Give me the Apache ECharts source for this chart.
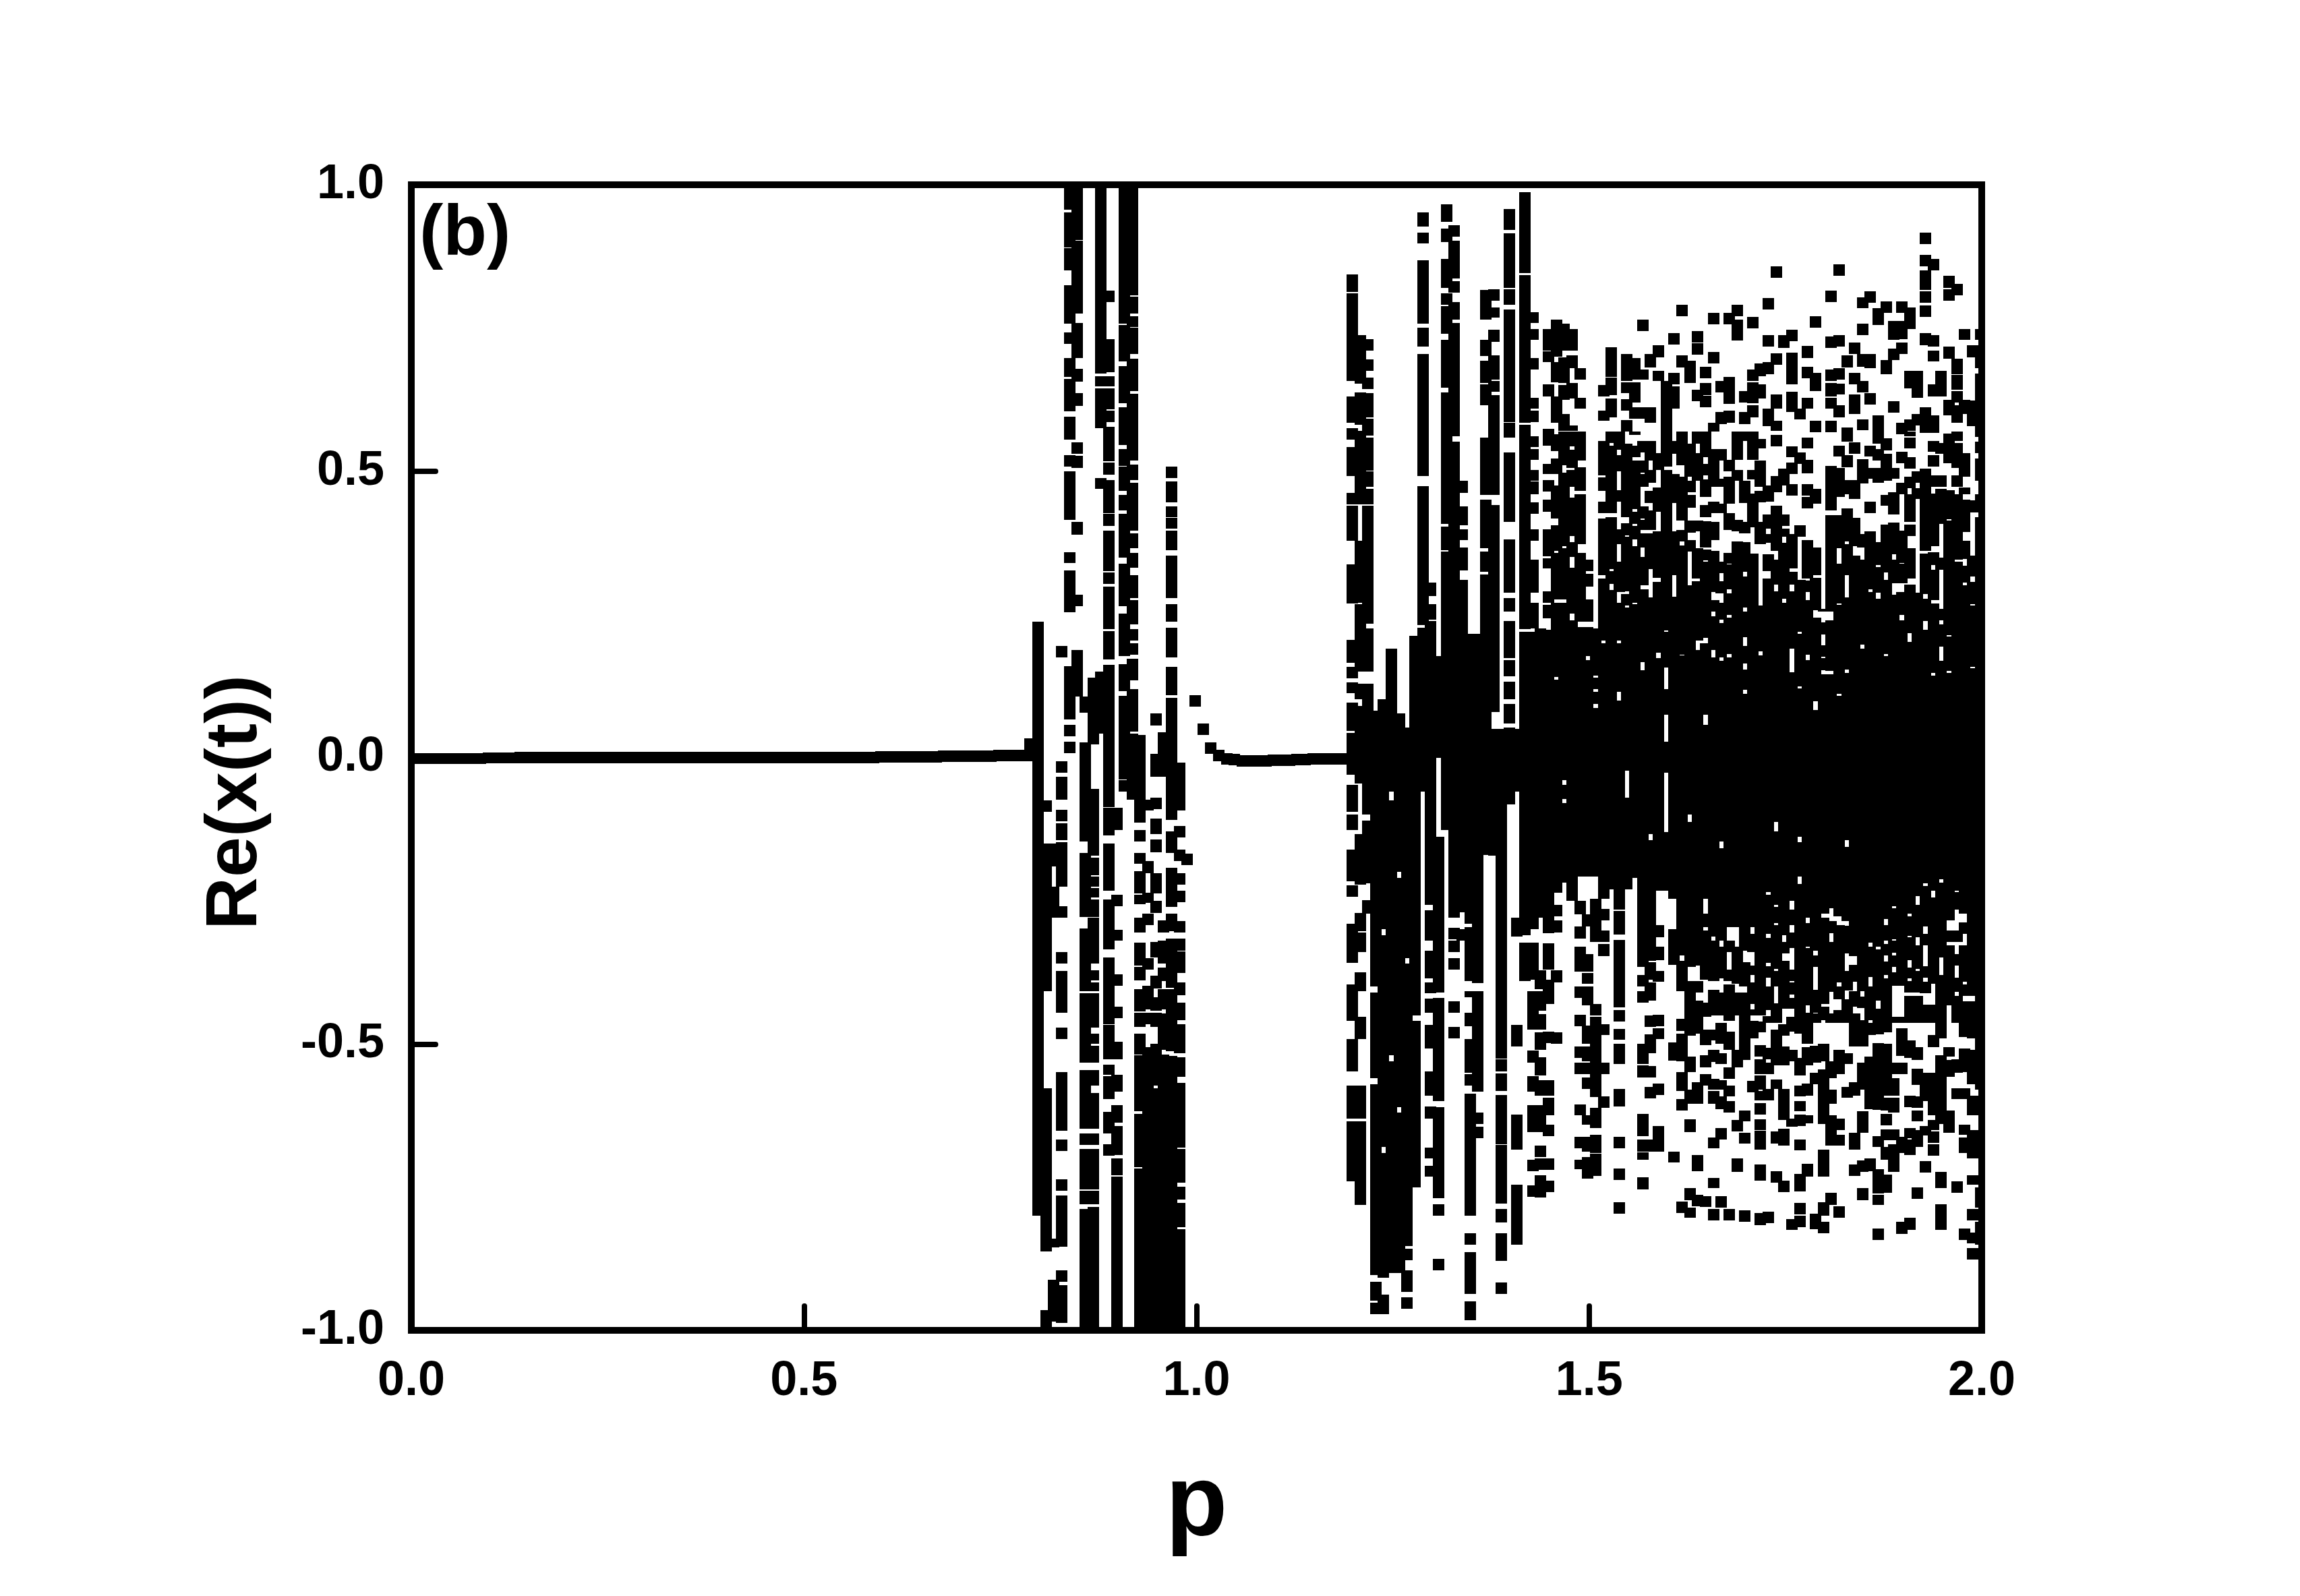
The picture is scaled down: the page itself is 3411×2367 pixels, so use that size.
<!DOCTYPE html>
<html><head><meta charset="utf-8">
<style>html,body{margin:0;padding:0;background:#fff}#c{width:3411px;height:2367px}</style>
<script src="https://cdn.jsdelivr.net/npm/echarts@6/dist/echarts.min.js"></script>
</head><body><div id="c"></div>
<script>
// each row: p, then pairs (upper edge, lower edge) of a stack of markers in Re(x(t))
const stable=[
[0,.008,-.011],[.01,.008,-.011],[.02,.008,-.011],[.03,.008,-.011],[.04,.008,-.011],[.05,.008,-.011],[.06,.008,-.011],[.07,.008,-.011],[.08,.008,-.011],[.09,.008,-.011],
[.1,.009,-.01],[.11,.009,-.01],[.12,.009,-.01],[.13,.009,-.01],[.14,.01,-.01],[.15,.01,-.01],[.16,.01,-.01],[.17,.01,-.01],[.18,.01,-.01],[.19,.01,-.01],
[.2,.01,-.01],[.21,.01,-.01],[.22,.01,-.01],[.23,.01,-.01],[.24,.01,-.01],[.25,.01,-.01],[.26,.01,-.01],[.27,.01,-.01],[.28,.01,-.01],[.29,.01,-.01],
[.3,.01,-.01],[.31,.01,-.01],[.32,.01,-.01],[.33,.01,-.01],[.34,.01,-.01],[.35,.01,-.01],[.36,.01,-.01],[.37,.01,-.01],[.38,.01,-.01],[.39,.01,-.01],
[.4,.01,-.01],[.41,.01,-.01],[.42,.01,-.01],[.43,.01,-.01],[.44,.01,-.01],[.45,.01,-.01],[.46,.01,-.01],[.47,.01,-.01],[.48,.01,-.01],[.49,.01,-.01],
[.5,.01,-.01],[.51,.01,-.01],[.52,.01,-.01],[.53,.01,-.01],[.54,.01,-.01],[.55,.01,-.01],[.56,.01,-.01],[.57,.01,-.01],[.58,.01,-.01],[.59,.01,-.01],
[.6,.011,-.009],[.61,.011,-.009],[.62,.011,-.009],[.63,.011,-.009],[.64,.011,-.009],[.65,.011,-.009],[.66,.011,-.009],[.67,.011,-.009],[.68,.012,-.008],[.69,.012,-.008],
[.7,.012,-.008],[.71,.012,-.008],[.72,.012,-.008],[.73,.012,-.008],[.74,.012,-.008],[.75,.013,-.007],[.76,.013,-.007],[.77,.013,-.007],[.78,.013,-.007]];
const windowA=[
[.79,.033,-.007],
[.80,.237,-.80],
[.81,-.075,-.095,-.15,-.408,-.577,-.862,-.965,-1],
[.82,-.15,-.19,-.225,-.28,-.84,-.855,-.912,-.965,-.965,-.985],
[.83,.195,.175,-.007,-.027,-.034,-.073,-.091,-.111,-.115,-.144,-.148,-.225,-.26,-.28,-.34,-.36,-.373,-.445,-.472,-.492,-.549,-.652,-.667,-.687,-.736,-.756,-.765,-.854,-.895,-.915,-.921,-.987],
[.84,1,.957,.952,.89,.889,.851,.825,.758,.742,.722,.697,.665,.661,.604,.595,.555,.528,.508,.5,.415,.359,.34,.327,.254,.16,.067,.057,.037,.028,.008],
[.85,1,.903,.902,.775,.759,.697,.679,.656,.636,.614,.55,.53,.527,.506,.412,.389,.284,.264,.188,.106],
[.86,.106,.078,.026,-.146,-.166,-.278,-.298,-.408,-.411,-.533,-.546,-.648,-.656,-.676,-.683,-.754,-.756,-.78,-.788,-1],
[.87,.139,.117,.117,.043,.043,.023,-.055,-.146,-.146,-.171,-.175,-.205,-.208,-.225,-.228,-.244,-.248,-.278,-.28,-.36,-.371,-.389,-.392,-.408,-.411,-.472,-.482,-.5,-.503,-.533,-.546,-.573,-.586,-.648,-.656,-.676,-.683,-.754,-.756,-.78,-.785,-1],
[.88,1,.67,.666,.648,.644,.575,.488,.469,.15,.042],
[.89,.815,.795,.731,.673,.666,.648,.644,.608,.606,.586,.577,.517,.515,.494,.484,.427,.425,.404,.396,.325,.323,.303,.298,.224,.221,.171,.162,-.087,-.088,-.136,-.15,-.232,-.248,-.335,-.349,-.465,-.467,-.527,-.536,-.554,-.556,-.596,-.619,-.656,-.675,-.695],
[.90,-.088,-.127,-.239,-.259,-.301,-.32,-.379,-.399,-.435,-.455,-.496,-.527,-.554,-.583,-.607,-.638,-.643,-.694,-.7,-.729,-.732,-1],
[.91,1,.758,.755,.692,.683,.619,.611,.546,.538,.509,.508,.465,.458,.431,.426,.349,.338,.264,.251,.177,.163,.116,.108,-.038,-.04,-.06],
[.92,1,.807,.805,.775,.771,.752,.75,.705,.696,.64,.635,.546,.546,.518,.511,.484,.48,.396,.391,.366,.357,.331,.319,.278,.275,.232,.224,.204,.2,.179,.173,.135,.12,.045,.042,-.073],
[.93,.04,-.034,-.034,-.082,-.082,-.114,-.127,-.146,-.166,-.185,-.198,-.237,-.239,-.256,-.28,-.306,-.323,-.363,-.366,-.389,-.404,-.443,-.446,-.47,-.482,-.518,-.52,-.617,-.622,-.715,-.718,-1],
[.94,-.073,-.092,-.181,-.202,-.236,-.254,-.272,-.293,-.35,-.37,-.399,-.44,-.446,-.466,-.506,-1],
[.95,.077,.056,.006,-.034,-.07,-.09,-.107,-.134,-.143,-.165,-.202,-.237,-.25,-.271,-.322,-.349,-.381,-.403,-.418,-.442,-.445,-.47,-.5,-.573,-.577,-1],
[.96,.044,-.034,-.284,-.306,-.32,-.36,-.367,-.39,-.404,-.44,-.447,-.51,-.518,-.6,-.6,-1],
[.97,.508,.488,.482,.446,.439,.42,.418,.4,.396,.362,.352,.278,.268,.237,.227,.175,.158,.109,.104,-.109,-.129,-.167,-.193,-.261,-.272,-.303,-.316,-.37,-.37,-.402,-.404,-.469,-.469,-.513,-.521,-.567,-.567,-1],
[.98,-.009,-.092,-.119,-.14,-.161,-.181,-.202,-.222,-.232,-.252,-.285,-.306,-.316,-.337,-.338,-.376,-.392,-.415,-.428,-.459,-.465,-.516,-.523,-.557,-.568,-.681,-.683,-.742,-.749,-.772,-.777,-.82,-.823,-1],
[.99,-.168,-.188],
[1.00,.109,.089],[1.01,.06,.04],[1.02,.027,.007],[1.03,.014,-.006],[1.04,.008,-.012],[1.05,.006,-.014]];
const recovered=[
[1.06,.004,-.016],[1.07,.004,-.016],[1.08,.004,-.016],[1.09,.004,-.016],[1.10,.005,-.015],[1.11,.005,-.015],[1.12,.005,-.015],[1.13,.006,-.014],[1.14,.006,-.014],[1.15,.008,-.012],[1.16,.008,-.012],[1.17,.008,-.012],[1.18,.008,-.012],[1.19,.008,-.012]];
const windowB=[
[1.20,.844,.813,.811,.658,.63,.585,.575,.555,.542,.492,.462,.442,.44,.379,.337,.269,.206,.165,.158,.138,.131,.112,.096,.046,.043,-.03,-.048,-.095,-.1,-.127,-.161,-.216,-.223,-.243,-.29,-.358,-.396,-.46,-.491,-.548,-.573,-.63,-.635,-.74],
[1.21,.737,.653,.638,.581,.57,.48,.491,.442,.379,.27,.268,.206,.206,.15,.129,.102,.09,-.045,-.134,-.222,-.271,-.303,-.306,-.34,-.375,-.408,-.453,-.492,-.573,-.63,-.635,-.73,-.722,-.781],
[1.22,.73,.71,.695,.675,.663,.643,.636,.594,.592,.562,.558,.501,.5,.473,.469,.442,.44,.234,.226,.15,.129,.082,.082,-.1,-.11,-.22,-.249,-.273],
[1.23,.082,-.40,-.41,-.56,-.57,-.903,-.915,-.948,-.952,-.972],
[1.24,.102,-.30,-.31,-.68,-.69,-.908,-.938,-.972],
[1.25,.19,-.06,-.075,-.52,-.53,-.9],
[1.26,.077,-.2,-.21,-.61,-.62,-.9],
[1.27,.052,-.35,-.36,-.853,-.858,-.878,-.895,-.933,-.942,-.962],
[1.28,.213,-.45,-.46,-.75],
[1.29,.952,.927,.917,.898,.868,.758,.75,.717,.704,.492,.474,.231,.227,-.06],
[1.30,.305,.282,.268,.241,.238,-.257,-.267,-.32,-.337,-.385,-.392,-.411,-.421,-.446,-.467,-.508,-.548,-.59,-.609,-.63,-.681,-.7,-.713,-.732],
[1.31,.177,.0,-.138,-.41,-.42,-.6,-.61,-.75,-.751,-.769,-.78,-.8,-.875,-.895],
[1.32,.966,.935,.923,.9,.87,.82,.81,.79,.788,.74,.729,.646,.638,.525,.524,.408,.403,.362,.36,-.126],
[1.33,.929,.909,.902,.836,.832,.812,.795,.764,.759,.561,.551,-.28,-.297,-.317,-.32,-.34,-.35,-.37,-.425,-.445,-.47,-.49],
[1.34,.483,.462,.438,.405,.399,.38,.367,.327,.31,-.27,-.3,-.32],
[1.35,.216,-.272,-.27,-.29,-.296,-.39,-.408,-.418,-.445,-.469,-.492,-.55,-.553,-.573,-.587,-.8,-.831,-.85,-.864,-.937,-.949,-.982],
[1.36,.216,-.394,-.408,-.583,-.62,-.64,-.644,-.665],
[1.37,.816,.765,.729,.701,.693,.654,.651,.615,.558,.459,.45,.366,.36,.324,.32,-.17],
[1.38,.817,.798,.786,.768,.747,.726,.702,.66,.657,.639,.633,.459,.441,.08,.05,-.171],
[1.39,.05,-.526,-.527,-.548,-.551,-.582,-.589,-.675,-.676,-.779,-.788,-.812,-.83,-.879,-.916,-.936],
[1.40,.958,.921,.915,.82,.818,.79,.782,.586,.585,.558,.533,.411,.381,.288,.278,.255,.238,.174,.17,.142,.132,.102,.094,.06,.052,-.082],
[1.41,.05,-.06,-.279,-.313,-.467,-.504,-.623,-.684,-.746,-.85],
[1.42,.987,.846,.842,.585,.581,.224,.219,-.31,-.323,-.39],
[1.43,.778,.759,.748,.729,.698,.678,.628,.609,.606,.586,.561,.542,.539,.52,.502,.483,.482,.46,.445,.426,.399,.378,.346,.288,.27,.225,.219,-.3,-.323,-.388,-.408,-.442,-.442,-.475,-.512,-.533,-.556,-.583,-.607,-.654,-.702,-.722,-.747,-.767],
[1.44,.225,-.28,-.371,-.404,-.408,-.442,-.448,-.475,-.48,-.51,-.523,-.555,-.563,-.59,-.607,-.654,-.677,-.697,-.7,-.72,-.729,-.748,-.748,-.768],
[1.45,.748,.711,.709,.69,.651,.63,.574,.544,.513,.495,.484,.464,.45,.429,.399,.351,.348,.33,.29,.27,.267,.243,.223,-.307,-.324,-.37,-.388,-.43,-.479,-.499,-.563,-.59,-.594,-.624,-.641,-.661,-.7,-.72,-.739,-.759]];
// stacks above the dense band, 1.46 to 2.00
const upperOuter=[
[1.46,.765,.7,.69,.655,.63,.585],[1.47,.758,.71,.699,.654,.65,.625,.6,.57],[1.48,.748,.71,.702,.68,.654,.627,.58,.57],[1.49,.68,.66,.628,.609],
[1.52,.65,.63,.606,.588],[1.53,.716,.665,.663,.633,.627,.594],[1.55,.705,.657,.655,.636,.626,.606,.589,.569],[1.56,.698,.66,.655,.62,.612,.591],
[1.57,.765,.745,.678,.66,.612,.591],[1.58,.705,.681,.612,.585],[1.59,.72,.699,.675,.657],[1.60,.657,.569],[1.61,.741,.721,.671,.651,.648,.609],
[1.62,.79,.771,.702,.681],[1.63,.693,.654],[1.64,.745,.724,.723,.703,.642,.622],[1.65,.682,.662,.654,.633,.632,.611],[1.66,.776,.756,.708,.688,.585,.569],
[1.67,.657,.637,.603,.582],[1.68,.776,.756,.665,.618,.606,.585],[1.69,.79,.771,.765,.728],[1.70,.64,.62,.603,.582],[1.71,.769,.749,.678,.657,.655,.619,.615,.594],
[1.72,.688,.666,.651,.627],[1.73,.802,.782,.738,.718,.69,.669,.609,.579],[1.74,.858,.837,.706,.686,.634,.609,.588,.57],[1.75,.738,.715],[1.76,.747,.727,.707,.651,.639,.603],
[1.77,.609,.59],[1.78,.719,.698,.682,.662,.628,.609],[1.79,.77,.75,.671,.64,.588,.568],[1.81,.815,.795,.735,.715,.678,.657,.654,.63,.628,.609,.588,.568],
[1.82,.861,.841,.738,.718,.68,.66,.653,.634,.615,.594],[1.83,.702,.681,.576,.552],[1.84,.724,.704,.671,.651,.634,.6],[1.85,.804,.784,.758,.738,.704,.682,.657,.637,.59,.571],
[1.86,.814,.794,.704,.68,.636,.616],[1.87,.784,.755,.597,.569],[1.88,.796,.776,.694,.669],[1.89,.762,.729,.714,.694,.622,.602],[1.90,.796,.776,.762,.73,.724,.704,.585,.564],
[1.91,.786,.748,.675,.645,.59,.57],[1.92,.675,.65,.651,.628,.60,.58],[1.93,.917,.896,.878,.858,.85,.816,.814,.794,.789,.769,.741,.72,.612,.567],
[1.94,.871,.851,.737,.718,.71,.692,.651,.63,.597,.567],[1.95,.675,.63],[1.96,.841,.82,.817,.798,.717,.696,.624,.597],[1.97,.827,.807,.696,.669,.668,.642,.64,.62,.615,.585],
[1.98,.748,.729,.624,.6],[1.99,.72,.699,.623,.579],[2.00,.748,.729,.7,.68,.67,.62,.6,.56]];
// stacks in the sparse part of the upper band, 1.73 to 2.00
const upperSparse=[
[1.73,.475,.447,.424,.40],[1.74,.563,.543,.491,.463,.44,.42],[1.75,.504,.475,.424,.404],[1.76,.543,.524,.515,.495,.477,.457],[1.77,.533,.513,.405,.385],
[1.78,.559,.54,.52,.496,.477,.457,.455,.435],[1.79,.469,.443],[1.81,.509,.432],[1.82,.545,.526,.506,.455],[1.83,.569,.551,.528,.507,.484,.46],[1.84,.55,.53,.484,.451],
[1.85,.521,.479],[1.86,.545,.526,.506,.487,.447,.427],[1.87,.569,.548,.538,.518,.506,.48],[1.88,.557,.536,.53,.483,.459,.44],[1.89,.506,.487,.463,.424],[1.90,.534,.514,.48,.46],
[1.91,.569,.561,.559,.54,.524,.504,.49,.47],[1.92,.50,.48],[1.94,.553,.534,.528,.508],[1.95,.549,.53,.493,.473],[1.96,.566,.545,.545,.514],[1.97,.569,.553,.549,.506,.493,.473],
[1.98,.532,.49,.471,.46],[1.99,.449,.43],[2.00,.551,.532,.522,.483,.46,.44]];
// dense band: p, upper edge, lower edge of the solid part
const bandEdges=[
[1.46,.569,-.208],[1.47,.569,-.208],[1.48,.569,-.208],[1.49,.569,-.208],[1.50,.569,-.208],[1.51,.569,-.208],[1.52,.569,-.208],[1.53,.569,-.208],[1.54,.569,-.208],[1.55,.569,-.208],[1.56,.569,-.208],[1.57,.569,-.208],[1.58,.569,-.208],[1.59,.569,-.208],[1.60,.569,-.208],
[1.61,.569,-.208],[1.62,.569,-.208],[1.63,.569,-.208],[1.64,.569,-.208],[1.65,.569,-.208],[1.66,.569,-.208],[1.67,.569,-.208],[1.68,.569,-.208],[1.69,.569,-.208],[1.70,.569,-.208],[1.71,.569,-.208],[1.72,.569,-.208],
[1.73,.39,-.463],[1.74,.42,-.463],[1.75,.40,-.463],[1.76,.39,-.463],[1.77,.385,-.463],[1.78,.38,-.463],[1.79,.367,-.463],[1.80,.26,-.463],[1.81,.423,-.463],[1.82,.423,-.463],[1.83,.435,-.463],[1.84,.418,-.463],[1.85,.39,-.463],[1.86,.395,-.463],[1.87,.376,-.463],[1.88,.407,-.463],[1.89,.41,-.463],
[1.90,.40,-.463],[1.91,.46,-.463],[1.92,.47,-.463],[1.93,.505,-.463],[1.94,.493,-.463],[1.95,.469,-.463],[1.96,.467,-.463],[1.97,.46,-.463],[1.98,.45,-.463],[1.99,.43,-.463],[2.00,.42,-.463]];
// white holes read inside the dense band
const bandGaps=[
[1.46,.569,.565,.535,.522,.495,.475,.417,.406,.361,.357,.276,.27,.141,.136],
[1.47,.51,.497,.369,.365,.276,.27,-.04,-.048,-.072,-.079],
[1.48,.543,.537,.506,.502,.473,.454,.387,.376,.35,.331,.251,.24],
[1.49,.518,.507,.466,.46,.373,.357,.237,.228],
[1.50,.569,.346,.326,.321,.298,.276,.237,.228,.177,.17],
[1.51,.569,.225,.143,.14,.12,.115,.094,.087],
[1.52,.569,.553,.493,.489,.466,.447,.427,.417,.318,.312,.204,.199],
[1.53,.549,.545,.427,.42,.329,.326,.303,.293],
[1.54,.537,.528,.5,.467,.447,.399,.373,.342,.289,.27,.204,.2,.115,.1],
[1.55,.569,.548,.42,.409,.388,.386,.29,.286,.265,.262,-.023,-.07],
[1.56,.563,.545,.525,.518,.434,.429,.408,.404,.381,.369,.27,.268],
[1.57,.569,.553,.533,.518,.497,.495,.473,.438,.417,.415,.397,.391,.367,.35,.301,.294,.166,.152],
[1.58,.569,.553,.518,.502,.48,.466,.444,.431,.397,.391,.329,.28,-.134,-.144],
[1.59,.569,.531,.502,.471,.429,.395,.314,.307,.183,.174],
[1.60,.508,.502,.222,.22,.157,.119,.075,.028,-.026,-.13],
[1.61,.569,.553,.53,.495,.444,.395,.318,.281],
[1.62,.51,.49,.414,.397,.377,.37,.18,.178],
[1.63,.569,.548,.49,.483,.463,.458,.436,.414,.393,.38,.36,.301,-.1,-.113],
[1.64,.548,.531,.483,.414,.395,.365,.312,.308,.204,.188],
[1.65,.525,.513,.493,.485,.455,.441,.42,.413,.367,.363,.344,.342,.209,.199,.075,.057],
[1.66,.569,.538,.473,.447,.427,.411,.38,.361,.289,.275,.255,.247,.188,.175],
[1.67,.569,.538,.518,.487,.473,.443,.427,.342,.322,.308,.287,.27,.241,.235,.175,.169,-.146,-.158],
[1.68,.569,.52,.5,.49,.443,.427,.397,.357,.338,.337,.294,.287,.249,.244,.181,.175],
[1.69,.52,.502,.483,.415,.395,.377],
[1.70,.553,.483,.444,.412,.391,.376,.324,.316,.262,.255,.21,.195,.164,.154,.118,.111],
[1.71,.52,.502,.485,.461,.402,.356],
[1.72,.569,.556,.54,.518,.473,.466,.445,.412,.373,.265,.185,.178],
[1.73,.375,.355,.326,.312,-.235,-.24,-.308,-.315,-.359,-.364,-.384,-.4,-.441,-.451],
[1.74,.361,.346,.302,.29,-.113,-.129,-.257,-.261,-.289,-.292,-.369,-.373,-.4,-.429],
[1.75,.385,.375,.277,.27,-.31,-.322,-.342,-.355,-.439,-.463],
[1.76,.33,.324,.302,.29,.19,.149,-.25,-.265,-.292,-.306,-.333,-.37,-.39,-.393,-.414,-.42,-.439,-.453],
[1.77,.385,.31,.22,.216,.124,.121,-.138,-.148,-.208,-.221],
[1.78,.312,.309,.289,.275,.18,.17,-.279,-.289,-.33,-.333,-.433,-.445],
[1.79,.318,.314,.257,.244,.098,.083,-.337,-.345,-.366,-.405,-.445,-.447],
[1.80,.255,.236,.215,.196,.176,.174,.153,.145,-.273,-.28,-.43,-.435,-.459,-.463],
[1.81,.255,.24,.151,.145,-.263,-.286,-.307,-.322,-.409,-.447],
[1.82,.365,.339,.269,.267,.111,.108,-.277,-.292,-.393,-.4,-.422,-.441],
[1.83,.377,.373,.318,.279,.154,.148,-.144,-.156,-.286,-.294,-.342,-.373,-.407,-.422],
[1.84,.369,.353,-.347,-.362,-.391,-.408,-.435,-.447],
[1.85,.367,.345,.197,.19,-.408,-.417,-.437,-.459],
[1.86,.294,.289,-.323,-.33,-.383,-.4,-.459,-.463],
[1.87,.396,.378,.336,.332,.288,.277,-.33,-.335,-.424,-.438],
[1.88,.323,.31,.181,.177,-.282,-.292,-.32,-.325,-.345,-.356,-.38,-.386],
[1.89,.355,.345,.304,.284,-.259,-.263,-.317,-.32,-.341,-.345,-.366,-.375,-.399,-.453],
[1.90,.443,.424,.403,.396,.34,.338,.304,.289,.249,.239,-.399,-.453],
[1.91,.412,.407,.387,.365,.313,.302,.217,.202,-.273,-.277,-.311,-.314,-.354,-.367,-.386,-.39,-.41,-.416],
[1.92,.451,.288,-.242,-.257,-.314,-.328,-.369,-.373,-.41,-.416],
[1.93,.361,.356,.285,.277,.238,.223,-.219,-.224,-.295,-.308,-.328,-.364,-.384,-.391,-.411,-.431],
[1.94,.473,.461,.369,.359,.336,.328,.275,.269,.148,.143,-.233,-.244,-.395,-.431],
[1.95,.408,.349,.328,.259,.24,.232,.194,.169,-.212,-.218,-.349,-.38],
[1.96,.416,.414,.214,.211,.151,.148,-.284,-.302,-.322,-.328,-.433,-.463],
[1.97,.345,.342,-.232,-.235,-.265,-.302,-.322,-.343,-.363,-.384,-.409,-.416],
[1.98,.394,.379,.347,.335,.306,.301,-.273,-.288,-.308,-.328,-.391,-.396,-.416,-.426],
[1.99,.428,.353,.316,.307,.268,.266,.158,.156,-.416,-.426]];
// stacks below the dense band, down to -0.702
const lowerBand=[
[1.46,-.208,-.236,-.257,-.277,-.284,-.305,-.371,-.393,-.48,-.5],
[1.47,-.208,-.218],
[1.48,-.208,-.25],
[1.49,-.25,-.274,-.295,-.316,-.33,-.374,-.4,-.42,-.449,-.469,-.504,-.524,-.533,-.553,-.606,-.625,-.662,-.682],
[1.50,-.274,-.295,-.343,-.374,-.376,-.395,-.4,-.433,-.468,-.5,-.504,-.53,-.533,-.553,-.559,-.578,-.625,-.641,-.662,-.688,-.697,-.702],
[1.51,-.247,-.322,-.43,-.45,-.453,-.465,-.465,-.484,-.484,-.553,-.553,-.573,-.573,-.593,-.612,-.633,-.633,-.647,-.659,-.69,-.691,-.702],
[1.52,-.208,-.247,-.264,-.284,-.302,-.322,-.326,-.347,-.465,-.484,-.533,-.553,-.592,-.612],
[1.53,-.208,-.23],
[1.54,-.208,-.265,-.268,-.309,-.319,-.436,-.441,-.461,-.474,-.493,-.5,-.535,-.578,-.609,-.662,-.682],
[1.55,-.208,-.23],
[1.56,-.208,-.21],
[1.57,-.208,-.365,-.38,-.40,-.408,-.428,-.5,-.535,-.537,-.558,-.622,-.661,-.667,-.688,-.689,-.702],
[1.58,-.208,-.355,-.357,-.388,-.392,-.424,-.45,-.47,-.483,-.516,-.538,-.558,-.575,-.595,-.667,-.688],
[1.59,-.208,-.232,-.293,-.314,-.33,-.354,-.372,-.391,-.449,-.469,-.473,-.492,-.569,-.589,-.643,-.688],
[1.60,-.208,-.232],
[1.61,-.208,-.247,-.3,-.342,-.342,-.362,-.497,-.529,-.688,-.702],
[1.62,-.208,-.345,-.355,-.408,-.456,-.477,-.482,-.502,-.5,-.53,-.549,-.582,-.596,-.616],
[1.63,-.208,-.365,-.39,-.486,-.522,-.549,-.58,-.604,-.631,-.654],
[1.64,-.208,-.363,-.39,-.41,-.424,-.482,-.567,-.604,-.694,-.702],
[1.65,-.208,-.247,-.272,-.296,-.302,-.388,-.428,-.453,-.475,-.502,-.52,-.541,-.553,-.573],
[1.66,-.208,-.312,-.32,-.39,-.405,-.45,-.475,-.494,-.51,-.531,-.561,-.58,-.582,-.604,-.663,-.682],
[1.67,-.208,-.32,-.33,-.385,-.41,-.45,-.463,-.5,-.516,-.535,-.563,-.58,-.592,-.614,-.647,-.667],
[1.68,-.208,-.296,-.32,-.34,-.37,-.39,-.396,-.46,-.478,-.51,-.541,-.561,-.573,-.592,-.6,-.62],
[1.69,-.208,-.296,-.33,-.395,-.41,-.45,-.51,-.541,-.633,-.653],
[1.70,-.208,-.337,-.357,-.4,-.41,-.528,-.616,-.635,-.655,-.674],
[1.71,-.208,-.296,-.308,-.34,-.363,-.38,-.393,-.43,-.44,-.45,-.46,-.49,-.565,-.585],
[1.72,-.208,-.45,-.461,-.48,-.502,-.522,-.527,-.553,-.555,-.58,-.582,-.598,-.603,-.623,-.631,-.65,-.651,-.684],
[1.73,-.507,-.527,-.533,-.553,-.578,-.598],
[1.74,-.475,-.537,-.562,-.578,-.653,-.674],
[1.75,-.465,-.485,-.504,-.537,-.578,-.633,-.648,-.678],
[1.76,-.463,-.478,-.51,-.53,-.63,-.645],
[1.77,-.463,-.482,-.525,-.555,-.573,-.592,-.6,-.617,-.623,-.643,-.667,-.686],
[1.78,-.463,-.5,-.506,-.537,-.569,-.59,-.625,-.639],
[1.79,-.503,-.533,-.55,-.57],
[1.80,-.5,-.53,-.545,-.64,-.685,-.702],
[1.81,-.53,-.56,-.58,-.604,-.625,-.657,-.658,-.678],
[1.82,-.51,-.553,-.63,-.65,-.659,-.678],
[1.83,-.516,-.535,-.575,-.594],
[1.84,-.463,-.505,-.567,-.59,-.655,-.685],
[1.85,-.463,-.504,-.533,-.58,-.618,-.655],
[1.86,-.463,-.484,-.522,-.614],
[1.87,-.463,-.483,-.498,-.615,-.661,-.68],
[1.88,-.463,-.48,-.5,-.59,-.594,-.616,-.622,-.642,-.649,-.668,-.68,-.702],
[1.89,-.533,-.553,-.56,-.59,-.594,-.62,-.649,-.668,-.675,-.702],
[1.90,-.473,-.521,-.533,-.553,-.662,-.69],
[1.91,-.494,-.525,-.59,-.61,-.647,-.665,-.667,-.694],
[1.92,-.506,-.528,-.543,-.572,-.592,-.612,-.616,-.635,-.65,-.68],
[1.93,-.55,-.6,-.643,-.66],
[1.94,-.484,-.506,-.55,-.625,-.633,-.65,-.653,-.673,-.675,-.695],
[1.95,-.463,-.49,-.52,-.64],
[1.96,-.506,-.522,-.528,-.557,-.616,-.655],
[1.97,-.527,-.55,-.577,-.596],
[1.98,-.463,-.488,-.508,-.549,-.577,-.596,-.641,-.659,-.663,-.69],
[1.99,-.463,-.49,-.51,-.57,-.59,-.624,-.65,-.70],
[2.00,-.463,-.58,-.59,-.624,-.65,-.69]];
// stacks below -0.702
const lowerOuter=[
[1.49,-.702,-.719],[1.50,-.702,-.735],[1.51,-.702,-.73],[1.54,-.717,-.737,-.776,-.796],[1.57,-.733,-.754],[1.61,-.702,-.707],[1.62,-.775,-.795],[1.63,-.752,-.773,-.786,-.804],
[1.64,-.702,-.722,-.763,-.783],[1.65,-.766,-.785],[1.66,-.734,-.752,-.788,-.808],[1.67,-.766,-.786],[1.68,-.788,-.808],[1.69,-.7,-.723],[1.70,-.79,-.81],[1.72,-.71,-.739,-.795,-.816],
[1.73,-.793,-.813],[1.74,-.722,-.742],[1.75,-.739,-.759],[1.76,-.806,-.825],[1.77,-.727,-.757,-.778,-.798,-.8,-.82],[1.78,-.709,-.732],[1.79,-.796,-.823],[1.80,-.702,-.732,-.776,-.8,-.81,-.83],
[1.81,-.76,-.781],[1.82,-.783,-.804],[1.84,-.71,-.73],[1.85,-.703,-.723,-.752,-.773],[1.86,-.7,-.722],[1.87,-.719,-.761,-.763,-.781,-.822,-.842],[1.88,-.728,-.76],[1.89,-.702,-.723],
[1.90,-.811,-.832],[1.91,-.804,-.825],[1.92,-.751,-.771],[1.93,-.705,-.725],[1.95,-.723,-.752,-.78,-.825],[1.97,-.74,-.76],[1.98,-.822,-.842],[1.99,-.729,-.746,-.788,-.808,-.829,-.848,-.856,-.876],
[2.00,-.75,-.786,-.81,-.83,-.834,-.85]];

const markerPx=17, markerShift=-2;
const stacks=[];
const addRows=list=>list.forEach(r=>{for(let i=1;i<r.length;i+=2)stacks.push([r[0],r[i],r[i+1]]);});
[stable,windowA,recovered,windowB,upperOuter,upperSparse,lowerBand,lowerOuter].forEach(addRows);
bandEdges.forEach(([p,top,bottom])=>{
  const g=bandGaps.find(r=>r[0]===p)||[p];
  const holes=[];for(let i=1;i<g.length;i+=2)holes.push([g[i],g[i+1]]);
  holes.sort((a,b)=>b[0]-a[0]);
  let cur=top;
  holes.forEach(([t,b])=>{if(t<cur)stacks.push([p,cur,t]);if(b<cur)cur=b;});
  if(cur>bottom)stacks.push([p,cur,bottom]);
});

const chart=echarts.init(document.getElementById('c'),null,{renderer:'canvas'});
const font='"Liberation Sans",Arial,sans-serif';
const axisBase={axisLine:{show:false,onZero:false},splitLine:{show:false},
  axisTick:{show:true,inside:true,length:36,lineStyle:{color:'#000',width:8,cap:'round'}},
  axisLabel:{color:'#000',fontFamily:font,fontWeight:'bold',fontSize:72}};
chart.setOption({
  animation:false,backgroundColor:'#fff',
  grid:{left:610,top:274,width:2329,height:1699,show:true,borderColor:'#000',borderWidth:10,backgroundColor:'transparent',z:5},
  xAxis:Object.assign({},axisBase,{type:'value',min:0,max:2,interval:.5,name:'p',nameLocation:'middle',nameGap:188,
    nameTextStyle:{color:'#000',fontFamily:font,fontWeight:'bold',fontSize:150},
    axisLabel:Object.assign({},axisBase.axisLabel,{margin:40,formatter:v=>v.toFixed(1)}),z:6}),
  yAxis:Object.assign({},axisBase,{type:'value',min:-1,max:1,interval:.5,
    axisLabel:Object.assign({},axisBase.axisLabel,{margin:40,padding:[0,0,12,0],formatter:v=>v.toFixed(1)}),z:6}),
  graphic:[
    {type:'text',left:622,top:296,z:20,style:{text:'(b)',fill:'#000',font:'bold 106px '+font}},
    {type:'text',x:350,y:1190,rotation:Math.PI/2,z:20,style:{text:'Re(x(t))',fill:'#000',align:'center',verticalAlign:'middle',font:'bold 108px '+font}}],
  series:[{type:'custom',coordinateSystem:'cartesian2d',silent:true,clip:true,progressive:0,z:3,
    encode:{x:0,y:[1,2]},data:stacks,
    renderItem:(params,api)=>{
      const a=api.coord([api.value(0),api.value(1)]),b=api.coord([api.value(0),api.value(2)]);
      const x=Math.round(a[0]-markerPx/2+markerShift), y0=Math.round(a[1]), y1=Math.round(b[1]);
      const shape=echarts.graphic.clipRectByRect({x,y:y0,width:markerPx,height:Math.max(y1-y0,1)},
        {x:params.coordSys.x,y:params.coordSys.y,width:params.coordSys.width,height:params.coordSys.height});
      return shape&&{type:'rect',shape,style:{fill:'#000'}};
    }}]
});
</script></body></html>
